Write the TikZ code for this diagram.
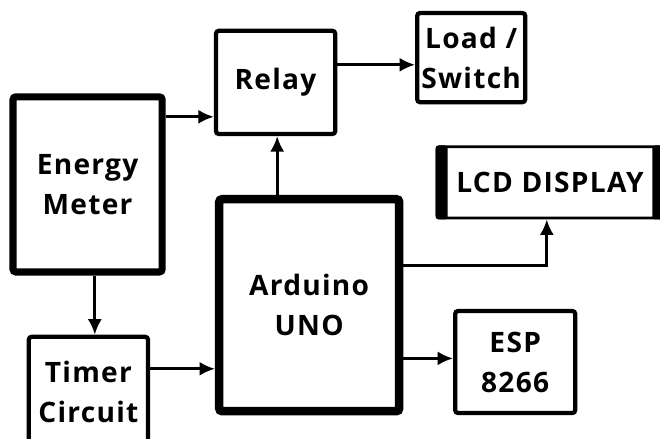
\documentclass[tikz,border=0pt]{standalone}
\usepackage{fontspec}
\setmainfont{Open Sans}[BoldFont={Open Sans Bold},LetterSpace=4.5]
\usepackage{tikz}
\usetikzlibrary{arrows.meta,positioning,calc}

\begin{document}
\begin{tikzpicture}[
  font=\fontsize{20}{28.5}\selectfont\bfseries,
  blk/.style={draw=black,fill=white,rounded corners=2pt,line width=3pt,align=center,inner sep=0pt},
  big/.style={blk,line width=5pt},
  ar/.style={-{Latex[length=11pt,width=10pt]},draw=black,line width=2pt}
]
\useasboundingbox (0,0) rectangle (16.5,-10.975);

\node[big,minimum width=3.73cm,minimum height=4.38cm] (meter) at (2.19,-4.61) {Energy\\Meter};
\node[blk,minimum width=2.98cm,minimum height=2.58cm] (relay) at (6.89,-2.06) {Relay};
\node[blk,minimum width=2.7cm,minimum height=2.23cm]  (load)  at (11.78,-1.44) {Load /\\Switch};
\node[blk,line width=2pt,minimum width=5.65cm,minimum height=1.78cm] (lcd) at (13.75,-4.56) {LCD DISPLAY};
\node[big,line width=6pt,minimum width=4.5cm,minimum height=5.3cm] (uno) at (7.73,-7.63) {Arduino\\UNO};
\node[blk,minimum width=2.98cm,minimum height=2.78cm] (timer) at (2.21,-9.81) {Timer\\Circuit};
\node[blk,minimum width=3.0cm,minimum height=2.55cm]  (esp)   at (12.88,-9.05) {ESP\\8266};

% display bezel
\fill[rounded corners=2pt] (lcd.south west) rectangle ([xshift=.3cm]lcd.north west);
\fill[rounded corners=2pt] (lcd.south east) rectangle ([xshift=-.3cm]lcd.north east);

\draw[ar] ([yshift=1.69cm]meter.east) coordinate (m1) -- (m1 -| relay.west);
\draw[ar] ([xshift=.18cm]meter.south) coordinate (m2) -- (m2 |- timer.north);
\draw[ar] ([yshift=.59cm]timer.east) coordinate (t1) -- (t1 -| uno.west);
\draw[ar] ([xshift=-.8cm]uno.north) coordinate (u1) -- (u1 |- relay.south);
\draw[ar] ([yshift=.44cm]relay.east) coordinate (r1) -- (r1 -| load.west);
\draw[ar] ([yshift=1.0cm]uno.east) -| ([xshift=-.08cm]lcd.south);
\draw[ar] ([yshift=-1.33cm]uno.east) coordinate (u3) -- (u3 -| esp.west);
\end{tikzpicture}
\end{document}
